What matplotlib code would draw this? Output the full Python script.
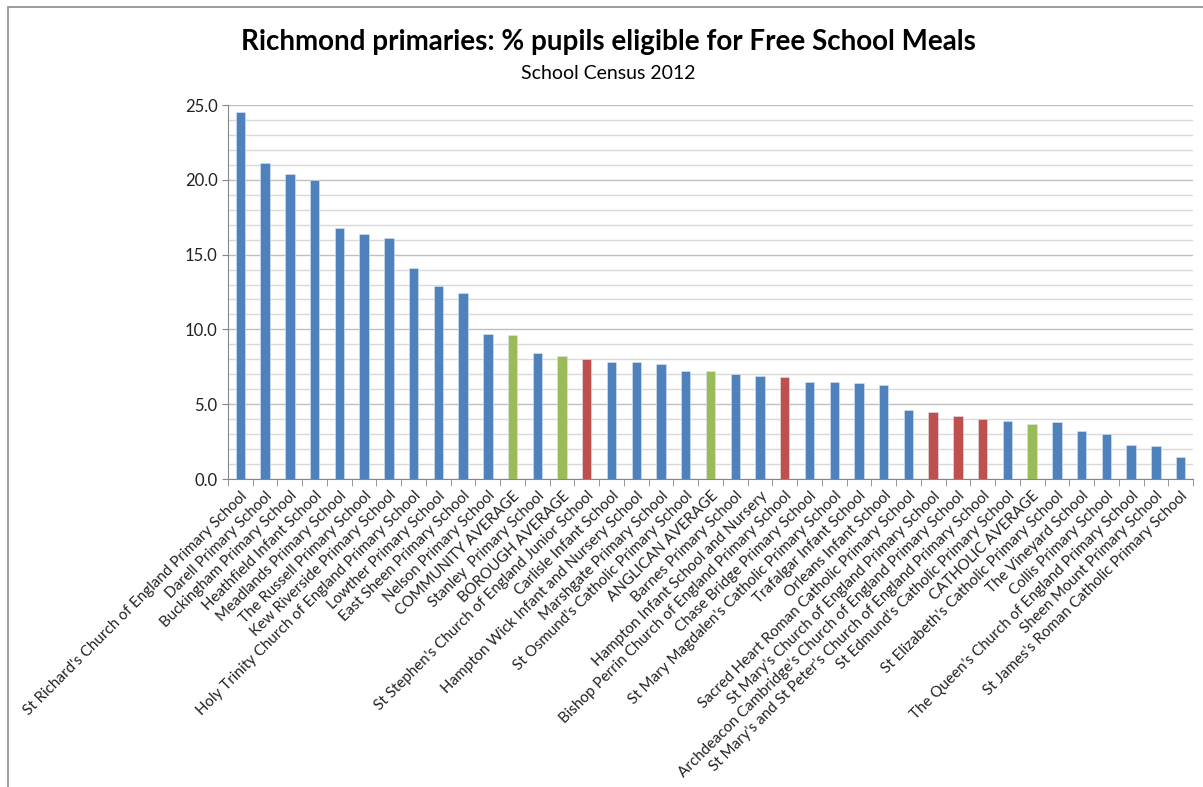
import matplotlib
matplotlib.use("Agg")
import matplotlib.pyplot as plt
from matplotlib.patches import Rectangle
from matplotlib.ticker import MultipleLocator, FixedLocator

plt.rcParams['font.family'] = ['Lato', 'DejaVu Sans']

schools = [
    "St Richard's Church of England Primary School",
    "Darell Primary School",
    "Buckingham Primary School",
    "Heathfield Infant School",
    "Meadlands Primary School",
    "The Russell Primary School",
    "Kew Riverside Primary School",
    "Holy Trinity Church of England Primary School",
    "Lowther Primary School",
    "East Sheen Primary School",
    "Nelson Primary School",
    "COMMUNITY AVERAGE",
    "Stanley  Primary School",
    "BOROUGH AVERAGE",
    "St Stephen's Church of England Junior School",
    "Carlisle Infant School",
    "Hampton Wick Infant and Nursery School",
    "Marshgate Primary School",
    "St Osmund's Catholic Primary School",
    "ANGLICAN AVERAGE",
    "Barnes Primary School",
    "Hampton Infant School and Nursery",
    "Bishop Perrin Church of England Primary School",
    "Chase Bridge Primary School",
    "St Mary Magdalen's Catholic Primary School",
    "Trafalgar Infant School",
    "Orleans Infant School",
    "Sacred Heart Roman Catholic Primary School",
    "St Mary's Church of England Primary School",
    "Archdeacon Cambridge's Church of England Primary School",
    "St Mary's and St Peter's Church of England Primary School",
    "St Edmund's Catholic Primary School",
    "CATHOLIC AVERAGE",
    "St Elizabeth's Catholic Primary School",
    "The Vineyard School",
    "Collis Primary School",
    "The Queen's Church of England Primary School",
    "Sheen Mount Primary School",
    "St James's Roman Catholic Primary School",
]

fsm_pct = [24.5, 21.1, 20.4, 20.0, 16.8, 16.4, 16.1, 14.1, 12.9, 12.4,
           9.7, 9.6, 8.4, 8.2, 8.0, 7.8, 7.8, 7.7, 7.2, 7.2,
           7.0, 6.9, 6.8, 6.5, 6.5, 6.4, 6.3, 4.6, 4.5, 4.2,
           4.0, 3.9, 3.7, 3.8, 3.2, 3.0, 2.3, 2.2, 1.5]

# b = school, a = average, r = highlighted
group = ["b"] * 11 + ["a", "b", "a", "r", "b", "b", "b", "b", "a",
                      "b", "b", "r", "b", "b", "b", "b", "b", "r", "r",
                      "r", "b", "a", "b", "b", "b", "b", "b", "b"]

palette = {"b": "#4F81BD", "a": "#9BBB59", "r": "#C0504D"}
colours = [palette[g] for g in group]

fig = plt.figure(figsize=(12.03, 7.87), dpi=100)
fig.patches.append(Rectangle((8 / 1203, -0.05), 1.1, 0.991 + 0.05,
                             transform=fig.transFigure, fill=False,
                             edgecolor="#8C8C8C", linewidth=1.2))

ax = fig.add_axes([228 / 1203, 1 - 479 / 787, (1193 - 228) / 1203, (479 - 105) / 787])
x = list(range(len(schools)))
ax.bar(x, fsm_pct, width=0.38, color=colours, edgecolor="#DCE6F2",
       linewidth=0.4, zorder=3)

ax.set_xlim(-0.5, len(schools) - 0.5)
ax.set_ylim(0, 25)
ax.yaxis.set_major_locator(MultipleLocator(5))
ax.yaxis.set_minor_locator(MultipleLocator(1))
ax.set_yticklabels([f"{v:.1f}" for v in ax.get_yticks()])
ax.grid(which="minor", axis="y", color="#D9D9D9", linewidth=1.0, zorder=0)
ax.grid(which="major", axis="y", color="#BFBFBF", linewidth=1.0, zorder=0)

ax.set_xticks(x)
ax.set_xticklabels(schools, rotation=45, ha="right", rotation_mode="anchor",
                   fontsize=10.9, color="#222222")
ax.xaxis.set_minor_locator(FixedLocator([i - 0.5 for i in range(len(schools) + 1)]))
ax.tick_params(axis="x", which="major", length=0, pad=7)
ax.tick_params(axis="x", which="minor", length=5, color="#868686")
ax.tick_params(axis="y", which="major", length=4, color="#868686",
               labelsize=12, labelcolor="#222222")
ax.tick_params(axis="y", which="minor", length=0)

for side in ["top", "right"]:
    ax.spines[side].set_visible(False)
for side in ["left", "bottom"]:
    ax.spines[side].set_color("#868686")

fig.text(0.506, 0.946, "Richmond primaries: % pupils eligible for Free School Meals",
         ha="center", va="center", fontsize=20, fontweight="bold")
fig.text(0.506, 0.907, "School Census 2012", ha="center", va="center", fontsize=14)

fig.savefig("out.png", dpi=100)
